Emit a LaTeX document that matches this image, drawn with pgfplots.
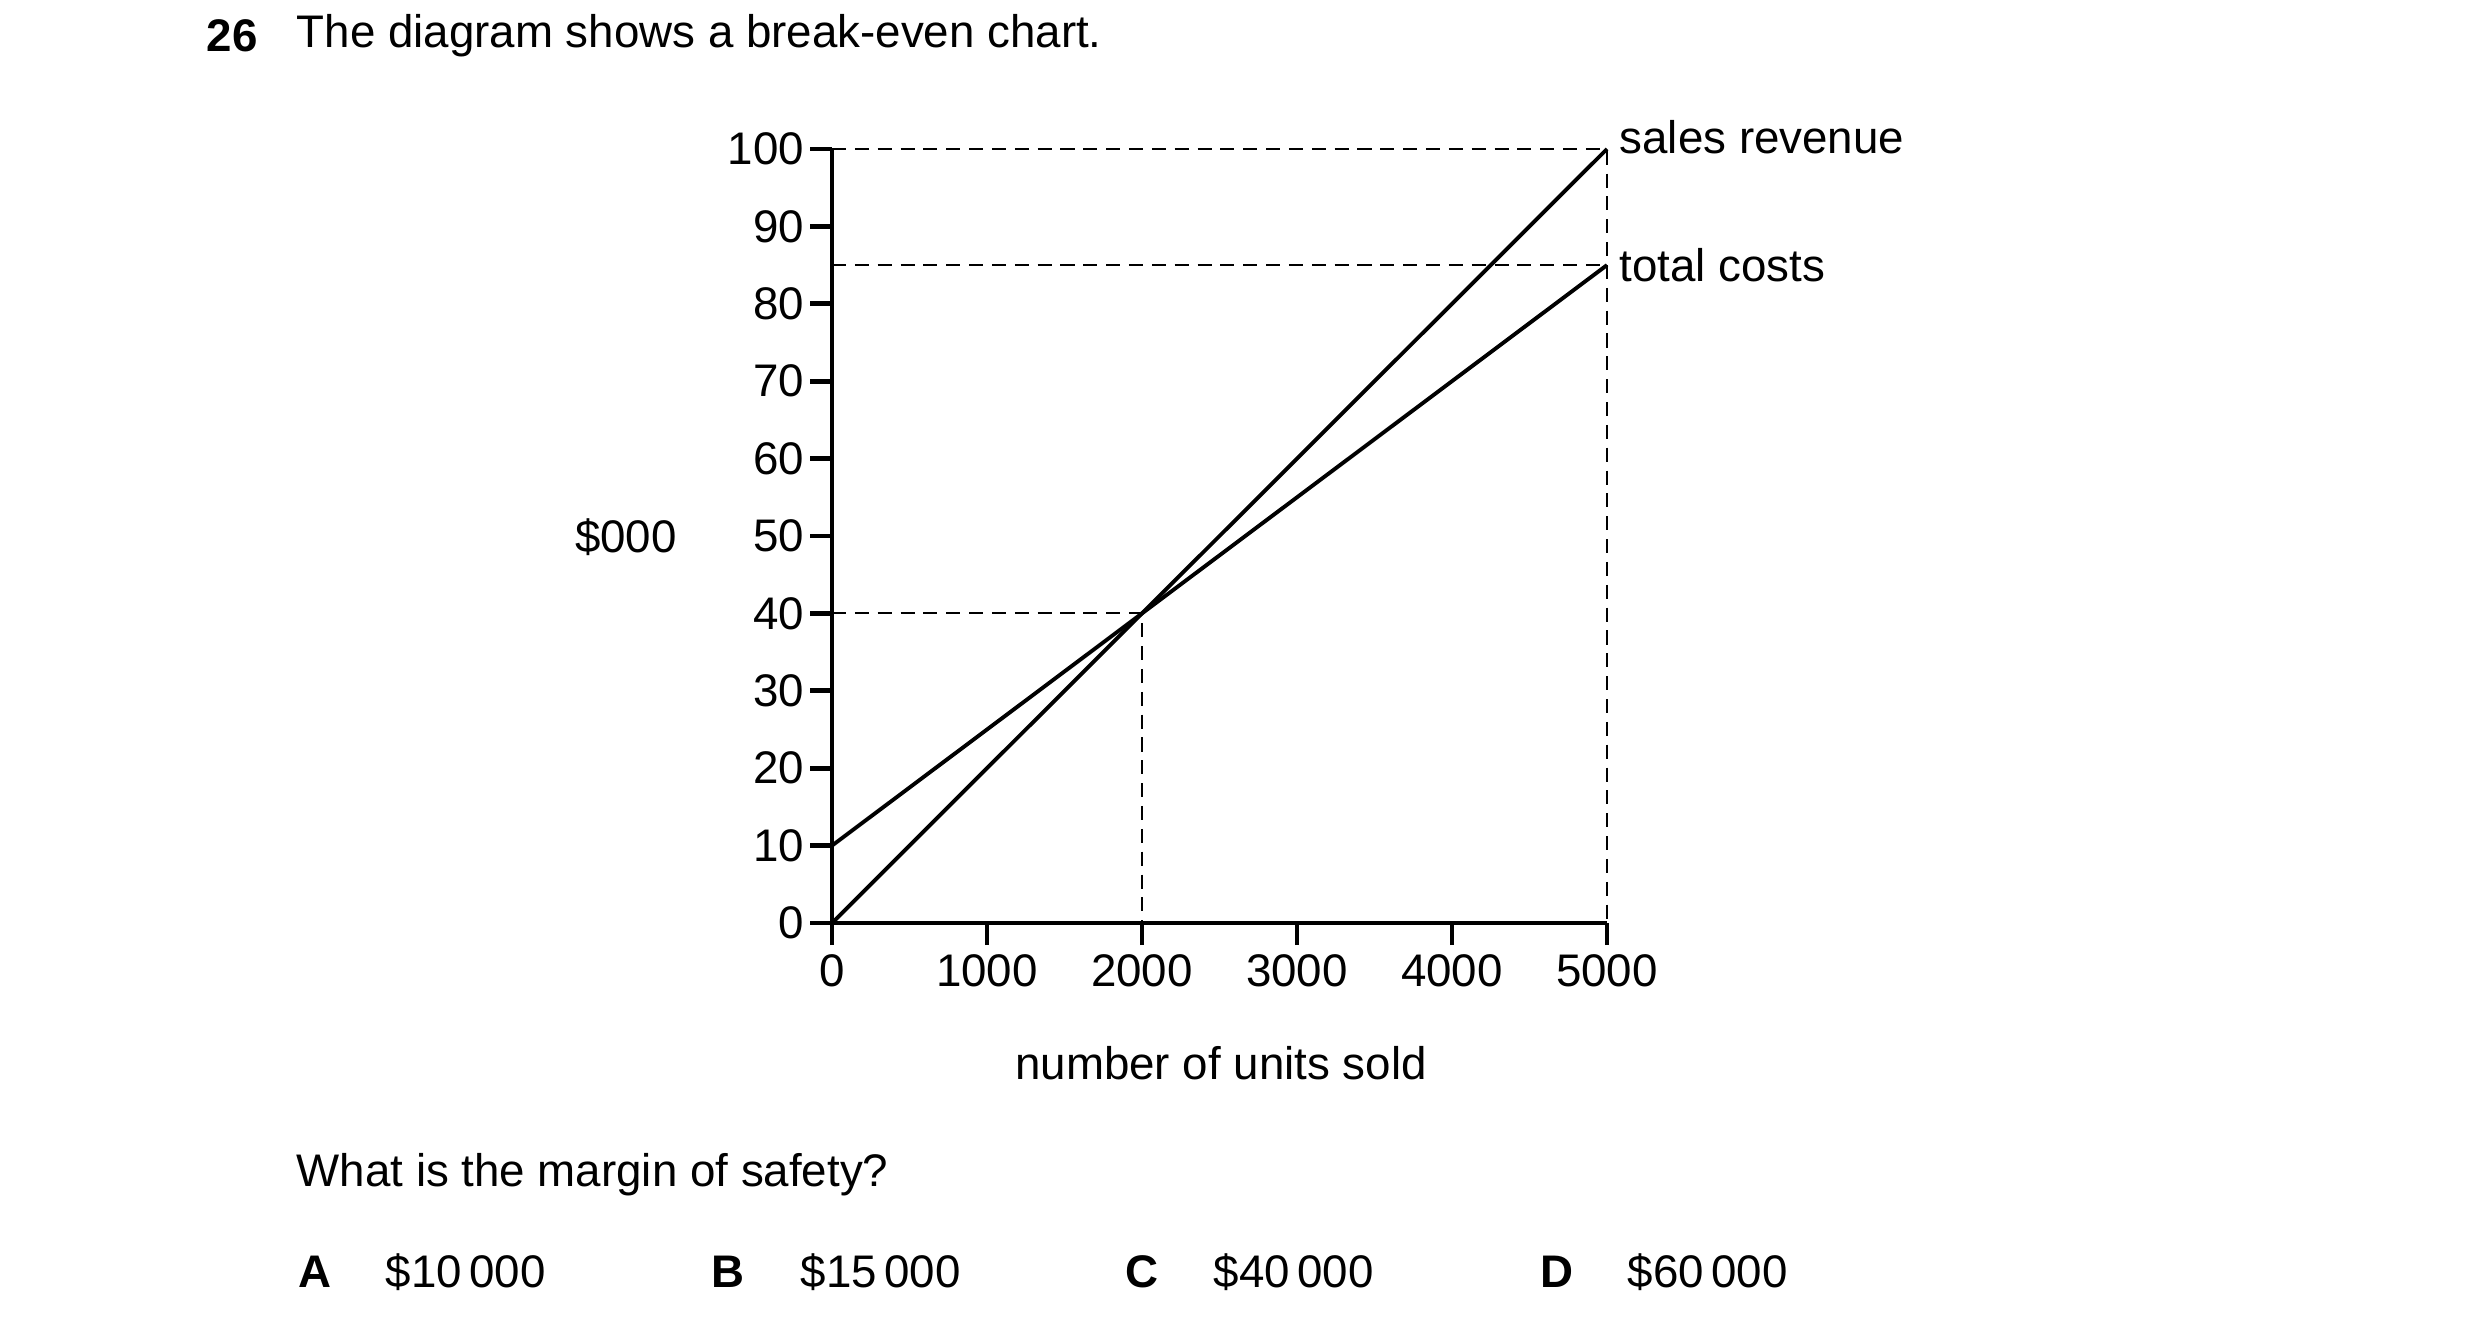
\documentclass[border=0pt]{standalone}
\usepackage{fontspec}
\setmainfont{Liberation Sans}
\usepackage{pgfplots}
\pgfplotsset{compat=1.18}

\begin{document}
\fontsize{13}{16}\selectfont
\begin{tikzpicture}[every node/.style={inner sep=0pt}]
% page frame: 24.8cm x 13.3cm
\path[fill=white] (0,0) rectangle (24.8,13.3);
\useasboundingbox (0,0) rectangle (24.8,13.3);

\node[anchor=west,font=\bfseries] at (2.06,12.94) {26};
\node[anchor=west] at (2.96,12.94) {The diagram shows a break-even chart.};

\begin{axis}[
    at={(8.32cm,4.07cm)}, anchor=south west,
    scale only axis,
    width=7.75cm, height=7.74cm,
    xmin=0, xmax=5000, ymin=0, ymax=100,
    axis lines=left,
    axis line style={-, line width=1.4pt},
    xtick={0,1000,2000,3000,4000,5000},
    ytick={0,10,...,100},
    tick align=outside,
    major tick length=0.22cm,
    tick style={line width=1.4pt, black},
    /pgf/number format/assume math mode=true,
    /pgf/number format/set thousands separator={},
    ticklabel style={font=\fontsize{13}{16}\selectfont},
    yticklabel style={inner sep=1.5pt},
    xticklabel style={inner sep=2.5pt},
    clip=false,
]
% reference lines
\addplot[black, line width=0.6pt, dash pattern=on 4pt off 2.5pt] coordinates {(0,100) (5000,100) (5000,0)};
\addplot[black, line width=0.6pt, dash pattern=on 4pt off 2.5pt] coordinates {(0,85) (5000,85)};
\addplot[black, line width=0.6pt, dash pattern=on 4pt off 2.5pt] coordinates {(0,40) (2000,40) (2000,0)};
% sales revenue
\addplot[black, line width=1.1pt] coordinates {(0,0) (5000,100)};
% total costs
\addplot[black, line width=1.1pt] coordinates {(0,10) (5000,85)};
\end{axis}

\node at (6.26,7.93) {\$000};
\node at (12.21,2.67) {number of units sold};
\node[anchor=west] at (16.19,11.93) {sales revenue};
\node[anchor=west] at (16.19,10.65) {total costs};

\node[anchor=west] at (2.96,1.55) {What is the margin of safety?};
\node[anchor=west,font=\bfseries] at (2.98,0.58) {A};
\node[anchor=west] at (3.85,0.58) {\$10\,000};
\node[anchor=west,font=\bfseries] at (7.11,0.58) {B};
\node[anchor=west] at (8.00,0.58) {\$15\,000};
\node[anchor=west,font=\bfseries] at (11.25,0.58) {C};
\node[anchor=west] at (12.13,0.58) {\$40\,000};
\node[anchor=west,font=\bfseries] at (15.40,0.58) {D};
\node[anchor=west] at (16.27,0.58) {\$60\,000};
\end{tikzpicture}
\end{document}
